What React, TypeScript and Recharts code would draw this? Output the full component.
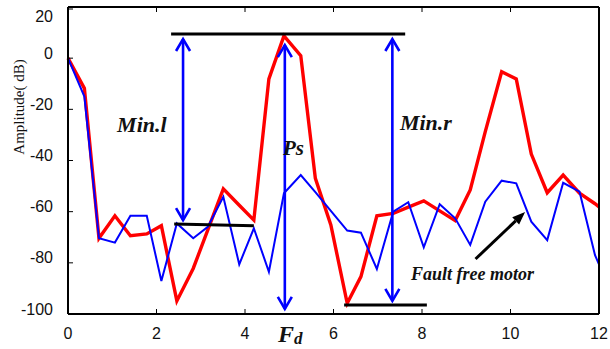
import { LineChart, Line, XAxis, YAxis, ReferenceLine, ReferenceDot } from "recharts";

// frequency bins (x axis, F_d)
const freq = [
  0, 0.37, 0.7, 1.06, 1.41, 1.78, 2.11, 2.46, 2.83, 3.16, 3.51, 3.87, 4.2, 4.54, 4.88, 5.26, 5.59, 5.94,
  6.31, 6.62, 6.98, 7.35, 7.69, 8.04, 8.4, 8.75, 9.09, 9.43, 9.8, 10.13, 10.47, 10.83, 11.19, 11.56, 11.91, 12,
];
// red: faulty motor spectrum (dB)
const faultyDb = [
  0, -11.8, -70.4, -61.6, -69.4, -68.7, -65.5, -94.9, -82.2, -67.1, -51.1, -57.5, -63.3, -8.1, 8.7, 1.0, -47.0, -65.2,
  -95.8, -85.4, -61.6, -60.7, -58.2, -55.8, -59.7, -63.5, -51.5, -28.7, -5.3, -8.1, -37.5, -52.6, -45.7, -52.8, -56.9, -58.1,
];
// blue: fault free motor spectrum (dB)
const healthyDb = [
  0, -15, -70.4, -72.1, -61.6, -61.6, -87.1, -64.6, -70.4, -65.9, -54.2, -80.6, -66.5, -83.5, -52.8, -45.7, -52.4, -59.7,
  -67.4, -68.2, -82.4, -60.0, -56.3, -73.9, -57.1, -62.6, -73.0, -56.1, -47.9, -48.9, -63.9, -71.1, -48.7, -52.2, -77.0, -80.6,
];

const xTicks = [0, 2, 4, 6, 8, 10, 12];
const yTicks = [-100, -80, -60, -40, -20, 0, 20];

// annotation geometry in data units
const levelLines = [
  { x1: 2.33, y1: 9.4, x2: 7.62, y2: 9.4 },
  { x1: 2.4, y1: -64.8, x2: 4.2, y2: -65.5 },
  { x1: 6.24, y1: -96.5, x2: 8.11, y2: -96.5 },
];
const arrows = [
  { x: 2.6, top: 7.5, bottom: -63.3 },
  { x: 4.9, top: 5.1, bottom: -98.0 },
  { x: 7.33, top: 7.5, bottom: -94.9 },
];
const pointer = { x1: 9.21, y1: -78.5, x2: 10.33, y2: -60.1 };
const notes = [
  { text: "Min.l", x: 1.11, y: -28.9, size: 22 },
  { text: "Ps", x: 4.86, y: -37.9, size: 21 },
  { text: "Min.r", x: 7.5, y: -28.1, size: 22 },
  { text: "Fault free motor", x: 7.75, y: -86.7, size: 18 },
];

const data = freq.map((f, i) => ({ f, faulty: faultyDb[i], healthy: healthyDb[i] }));

const sans = "'Liberation Sans', Arial, sans-serif";
const serif = "'Liberation Serif', 'Times New Roman', serif";

function BottomTick(props: any) {
  const { x, y, payload } = props;
  return (
    <g>
      <line x1={x} y1={y} x2={x} y2={y - 5} stroke="#000" strokeWidth={1} />
      <text x={x} y={y + 25} textAnchor="middle" fontSize={16} fontFamily={sans} fill="#111">
        {payload.value}
      </text>
    </g>
  );
}

function TopTick(props: any) {
  const { x, y } = props;
  return <line x1={x} y1={y} x2={x} y2={y + 5} stroke="#000" strokeWidth={1} />;
}

function LeftTick(props: any) {
  const { x, y, payload } = props;
  const ty = payload.value === 20 ? y + 7 : y - 5;
  return (
    <g>
      <line x1={x} y1={y} x2={x + 5} y2={y} stroke="#000" strokeWidth={1} />
      <text x={x - 15} y={ty} textAnchor="end" dominantBaseline="central" fontSize={16} fontFamily={sans} fill="#111">
        {payload.value}
      </text>
    </g>
  );
}

function RightTick(props: any) {
  const { x, y } = props;
  return <line x1={x} y1={y} x2={x - 5} y2={y} stroke="#000" strokeWidth={1} />;
}

function DoubleArrow(props: any) {
  const { x1, y1, y2 } = props;
  const top = Math.min(y1, y2);
  const bot = Math.max(y1, y2);
  const w = 7;
  const h = 12;
  return (
    <g stroke="#0000ff" strokeWidth={2.6} fill="none">
      <line x1={x1} y1={top} x2={x1} y2={bot} />
      <polyline points={`${x1 - w},${top + h} ${x1},${top} ${x1 + w},${top + h}`} />
      <polyline points={`${x1 - w},${bot - h} ${x1},${bot} ${x1 + w},${bot - h}`} />
    </g>
  );
}

function Pointer(props: any) {
  const { x1, y1, x2, y2 } = props;
  const dx = x2 - x1;
  const dy = y2 - y1;
  const len = Math.hypot(dx, dy);
  const ux = dx / len;
  const uy = dy / len;
  const hl = 13;
  const hw = 5;
  const bx = x2 - ux * hl;
  const by = y2 - uy * hl;
  return (
    <g>
      <line x1={x1} y1={y1} x2={bx} y2={by} stroke="#000" strokeWidth={3} />
      <polygon
        points={`${x2},${y2} ${bx - uy * hw},${by + ux * hw} ${bx + uy * hw},${by - ux * hw}`}
        fill="#000"
      />
    </g>
  );
}

function LevelLine(props: any) {
  const { x1, y1, x2, y2 } = props;
  return <line x1={x1} y1={y1} x2={x2} y2={y2} stroke="#000" strokeWidth={3} />;
}

function noteShape(text: string, size: number) {
  return (p: any) => (
    <text
      x={p.cx}
      y={p.cy}
      fontSize={size}
      fontFamily={serif}
      fontStyle="italic"
      fontWeight="bold"
      fill="#111"
    >
      {text}
    </text>
  );
}

export default function App() {
  return (
    <div style={{ position: "absolute", left: 0, top: 0, width: 610, height: 349, background: "#fff" }}>
      <LineChart width={610} height={349} data={data} margin={{ top: 0, right: 0, bottom: 0, left: 0 }}>
        <XAxis
          dataKey="f"
          type="number"
          domain={[0, 12]}
          ticks={xTicks}
          tickSize={0}
          tickMargin={0}
          tickLine={false}
          height={35}
          axisLine={{ stroke: "#000", strokeWidth: 2 }}
          tick={<BottomTick />}
          label={() => (
            <text x={278} y={342} fontFamily={serif} fontStyle="italic" fontWeight="bold" fill="#111" fontSize={24}>
              F
              <tspan dy={2} fontSize={17}>d</tspan>
            </text>
          )}
        />
        <XAxis
          xAxisId="top"
          orientation="top"
          dataKey="f"
          type="number"
          domain={[0, 12]}
          ticks={xTicks}
          tickSize={0}
          tickMargin={0}
          tickLine={false}
          height={7}
          axisLine={{ stroke: "#000", strokeWidth: 2 }}
          tick={<TopTick />}
        />
        <YAxis
          type="number"
          domain={[-100, 20]}
          ticks={yTicks}
          tickSize={0}
          tickMargin={0}
          tickLine={false}
          width={68}
          axisLine={{ stroke: "#000", strokeWidth: 2 }}
          tick={<LeftTick />}
          label={() => (
            <text
              x={0}
              y={0}
              transform="translate(19,107) rotate(-90)"
              textAnchor="middle"
              dominantBaseline="central"
              fontSize={15}
              fontFamily={serif}
              fill="#111"
            >
              Amplitude( dB)
            </text>
          )}
        />
        <YAxis
          yAxisId="right"
          orientation="right"
          type="number"
          domain={[-100, 20]}
          ticks={yTicks}
          tickSize={0}
          tickMargin={0}
          tickLine={false}
          width={11}
          axisLine={{ stroke: "#000", strokeWidth: 2 }}
          tick={<RightTick />}
        />
        <Line
          type="linear"
          dataKey="faulty"
          stroke="#ff0000"
          strokeWidth={3.4}
          dot={false}
          isAnimationActive={false}
        />
        <Line
          type="linear"
          dataKey="healthy"
          stroke="#0000ff"
          strokeWidth={2}
          dot={false}
          isAnimationActive={false}
        />
        {levelLines.map((l, i) => (
          <ReferenceLine
            key={`lv${i}`}
            segment={[
              { x: l.x1, y: l.y1 },
              { x: l.x2, y: l.y2 },
            ]}
            shape={<LevelLine />}
            ifOverflow="visible"
          />
        ))}
        {arrows.map((a, i) => (
          <ReferenceLine
            key={`ar${i}`}
            segment={[
              { x: a.x, y: a.top },
              { x: a.x, y: a.bottom },
            ]}
            shape={<DoubleArrow />}
            ifOverflow="visible"
          />
        ))}
        <ReferenceLine
          segment={[
            { x: pointer.x1, y: pointer.y1 },
            { x: pointer.x2, y: pointer.y2 },
          ]}
          shape={<Pointer />}
          ifOverflow="visible"
        />
        {notes.map((n) => (
          <ReferenceDot key={n.text} x={n.x} y={n.y} r={1} shape={noteShape(n.text, n.size)} ifOverflow="visible" />
        ))}
      </LineChart>
    </div>
  );
}
